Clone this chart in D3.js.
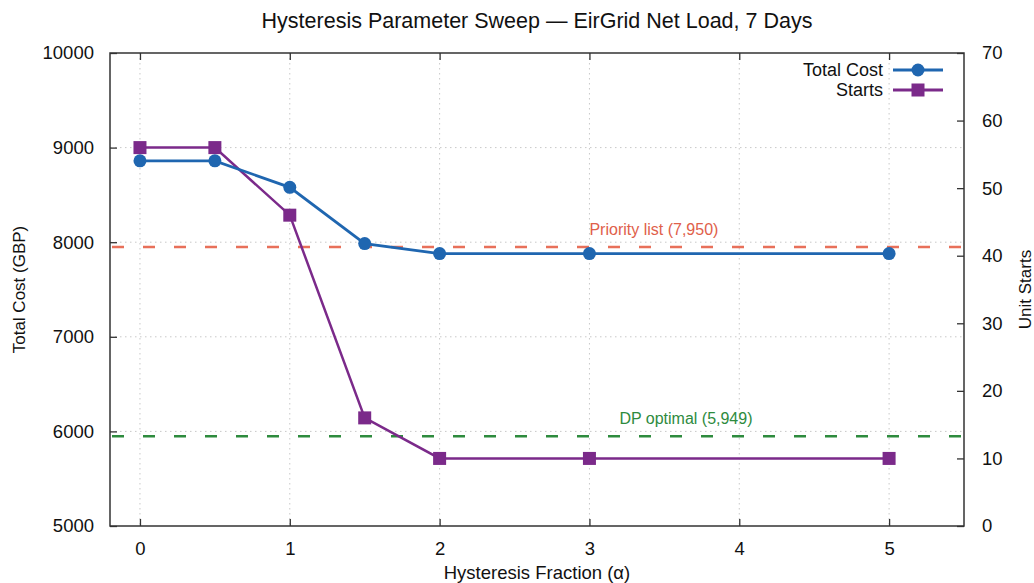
<!DOCTYPE html>
<html>
<head>
<meta charset="utf-8">
<script src="https://cdn.jsdelivr.net/npm/d3@7"></script>
<style>
  html, body { margin: 0; padding: 0; background: #fff; }
  svg { display: block; font-family: "Liberation Sans", Arial, Helvetica, sans-serif; }
</style>
</head>
<body>
<svg id="chart" width="1034" height="583"></svg>
<script>
// Hysteresis fraction sweep values
const alphas = [0, 0.5, 1, 1.5, 2, 3, 5];
const totalCost = [8860, 8860, 8580, 7985, 7880, 7880, 7880];
const unitStarts = [56, 56, 46, 16, 10, 10, 10];

// Reference cost levels
const referenceLines = [
  { label: "Priority list (7,950)", value: 7950, color: "#e8705a", textColor: "#e0604a", labelAt: 3.0 },
  { label: "DP optimal (5,949)", value: 5949, color: "#2e8b3e", textColor: "#2e8b3e", labelAt: 3.2 }
];

const xTicks = [0, 1, 2, 3, 4, 5];
const yTicks = [5000, 6000, 7000, 8000, 9000, 10000];
const y2Ticks = [0, 10, 20, 30, 40, 50, 60, 70];

const W = 1034, H = 583;
const margin = { left: 110, right: 70, top: 53, bottom: 57 };
const plotW = W - margin.left - margin.right;
const plotH = H - margin.top - margin.bottom;

const costColor = "#1f66b0";
const startsColor = "#7b2a8a";

const svg = d3.select("#chart");
const g = svg.append("g").attr("transform", `translate(${margin.left},${margin.top})`);

const x = d3.scaleLinear().domain([-0.2, 5.5]).range([0, plotW]);
const y = d3.scaleLinear().domain([5000, 10000]).range([plotH, 0]);
const y2 = d3.scaleLinear().domain([0, 70]).range([plotH, 0]);

// Dotted grid
const grid = g.append("g").attr("stroke", "#c8c8c8").attr("stroke-width", 1).attr("stroke-dasharray", "1.5,3.5");
grid.selectAll("line.vx").data(xTicks).join("line")
  .attr("x1", d => x(d)).attr("x2", d => x(d)).attr("y1", 0).attr("y2", plotH);
grid.selectAll("line.hy").data(yTicks.filter(d => d > 5000 && d < 10000)).join("line")
  .attr("x1", 0).attr("x2", plotW).attr("y1", d => y(d)).attr("y2", d => y(d));

// Reference dashed lines
g.selectAll("line.ref").data(referenceLines).join("line")
  .attr("x1", 0).attr("x2", plotW)
  .attr("y1", d => y(d.value)).attr("y2", d => y(d.value))
  .attr("stroke", d => d.color).attr("stroke-width", 2.5)
  .attr("stroke-dasharray", "12,19").attr("stroke-dashoffset", -2);
g.selectAll("text.ref").data(referenceLines).join("text")
  .attr("x", d => x(d.labelAt)).attr("y", d => y(d.value) - 12)
  .attr("fill", d => d.textColor).attr("font-size", 16)
  .text(d => d.label);

// Axes with inward ticks
const tickLen = 7;
const axisStyle = sel => {
  sel.select(".domain").remove();
  sel.selectAll(".tick line").attr("stroke", "#333").attr("stroke-width", 1.3);
  sel.selectAll(".tick text").attr("fill", "#111").attr("font-size", 18.5)
     .attr("font-family", "Liberation Sans, Arial, sans-serif");
};

g.append("g").attr("transform", `translate(0,${plotH})`)
  .call(d3.axisBottom(x).tickValues(xTicks).tickFormat(d3.format("d")).tickSizeInner(-tickLen).tickSizeOuter(0).tickPadding(16))
  .call(axisStyle);
g.append("g")
  .call(d3.axisTop(x).tickValues(xTicks).tickFormat("").tickSizeInner(-tickLen).tickSizeOuter(0))
  .call(axisStyle);
g.append("g")
  .call(d3.axisLeft(y).tickValues(yTicks).tickFormat(d3.format("d")).tickSizeInner(-tickLen).tickSizeOuter(0).tickPadding(16))
  .call(axisStyle);
g.append("g").attr("transform", `translate(${plotW},0)`)
  .call(d3.axisRight(y2).tickValues(y2Ticks).tickFormat(d3.format("d")).tickSizeInner(-tickLen).tickSizeOuter(0).tickPadding(18))
  .call(axisStyle);

// Plot frame
g.append("rect").attr("x", 0).attr("y", 0).attr("width", plotW).attr("height", plotH)
  .attr("fill", "none").attr("stroke", "#333").attr("stroke-width", 1.5);

// Series
const costPts = alphas.map((a, i) => [a, totalCost[i]]);
const startPts = alphas.map((a, i) => [a, unitStarts[i]]);

g.append("path").datum(startPts)
  .attr("fill", "none").attr("stroke", startsColor).attr("stroke-width", 2.5)
  .attr("d", d3.line().x(d => x(d[0])).y(d => y2(d[1])));
g.append("path").datum(costPts)
  .attr("fill", "none").attr("stroke", costColor).attr("stroke-width", 2.8)
  .attr("d", d3.line().x(d => x(d[0])).y(d => y(d[1])));

g.selectAll("circle.cost").data(costPts).join("circle")
  .attr("cx", d => x(d[0])).attr("cy", d => y(d[1])).attr("r", 6.5)
  .attr("fill", costColor);
const sq = 13;
g.selectAll("rect.starts").data(startPts).join("rect")
  .attr("x", d => x(d[0]) - sq / 2).attr("y", d => y2(d[1]) - sq / 2)
  .attr("width", sq).attr("height", sq).attr("fill", startsColor);

// Legend
const legend = g.append("g");
const legendItems = [
  { name: "Total Cost", color: costColor, shape: "circle" },
  { name: "Starts", color: startsColor, shape: "square" }
];
legendItems.forEach((it, i) => {
  const ly = 17 + i * 20;
  const lx0 = 783, lx1 = 833;
  legend.append("text").attr("x", lx0 - 10).attr("y", ly).attr("dy", "0.35em")
    .attr("text-anchor", "end").attr("font-size", 18).attr("fill", "#111").text(it.name);
  legend.append("line").attr("x1", lx0).attr("x2", lx1).attr("y1", ly).attr("y2", ly)
    .attr("stroke", it.color).attr("stroke-width", 2.8);
  const cx = (lx0 + lx1) / 2;
  if (it.shape === "circle") {
    legend.append("circle").attr("cx", cx).attr("cy", ly).attr("r", 6.5).attr("fill", it.color);
  } else {
    legend.append("rect").attr("x", cx - sq / 2).attr("y", ly - sq / 2).attr("width", sq).attr("height", sq).attr("fill", it.color);
  }
});

// Titles
svg.append("text").attr("x", margin.left + plotW / 2).attr("y", 28)
  .attr("text-anchor", "middle").attr("font-size", 21.5).attr("fill", "#111")
  .text("Hysteresis Parameter Sweep — EirGrid Net Load, 7 Days");
svg.append("text").attr("x", margin.left + plotW / 2).attr("y", 579)
  .attr("text-anchor", "middle").attr("font-size", 18.5).attr("fill", "#111")
  .text("Hysteresis Fraction (α)");
svg.append("text").attr("transform", `translate(25,${margin.top + plotH / 2}) rotate(-90)`)
  .attr("text-anchor", "middle").attr("font-size", 17).attr("fill", "#111")
  .text("Total Cost (GBP)");
svg.append("text").attr("transform", `translate(1031,${margin.top + plotH / 2}) rotate(-90)`)
  .attr("text-anchor", "middle").attr("font-size", 17).attr("fill", "#111")
  .text("Unit Starts");
</script>
</body>
</html>
